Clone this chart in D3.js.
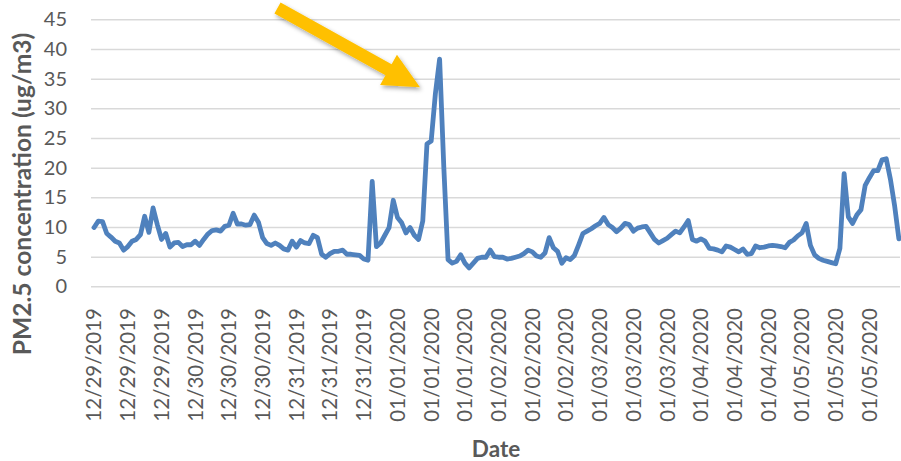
<!DOCTYPE html>
<html>
<head>
<meta charset="utf-8">
<script src="https://cdn.jsdelivr.net/npm/d3@7"></script>
<style>
  html, body { margin: 0; padding: 0; background: #ffffff; }
  svg { display: block; }
</style>
</head>
<body>
<svg id="chart" width="901" height="461"></svg>
<script>
// Hourly PM2.5 readings, 12/29/2019 00:00 through 01/05/2020 23:00
const pm25 = [
  9.9, 11.0, 10.9, 8.9, 8.3, 7.6, 7.3, 6.1, 6.7, 7.6, 7.9, 8.7, 11.8, 9.1, 13.2, 10.4,
  7.9, 8.9, 6.6, 7.3, 7.4, 6.7, 7.0, 7.0, 7.6, 6.9, 7.9, 8.8, 9.4, 9.5, 9.3, 10.1,
  10.3, 12.3, 10.5, 10.5, 10.3, 10.4, 12.0, 10.8, 8.2, 7.2, 6.9, 7.3, 6.9, 6.3, 6.1, 7.6,
  6.6, 7.7, 7.3, 7.2, 8.6, 8.2, 5.4, 4.9, 5.5, 5.9, 5.9, 6.1, 5.4, 5.4, 5.3, 5.2,
  4.6, 4.4, 17.7, 6.7, 7.3, 8.6, 9.9, 14.5, 11.6, 10.7, 9.0, 9.9, 8.6, 7.9, 11.0, 24.0,
  24.5, 32.5, 38.3, 20.0, 4.5, 3.9, 4.2, 5.3, 3.9, 3.1, 3.9, 4.7, 4.9, 4.9, 6.1, 5.0,
  4.9, 4.9, 4.6, 4.7, 4.9, 5.1, 5.5, 6.1, 5.8, 5.1, 4.9, 5.6, 8.2, 6.5, 5.9, 3.9,
  4.8, 4.5, 5.2, 7.0, 8.9, 9.3, 9.7, 10.2, 10.6, 11.6, 10.4, 9.9, 9.2, 9.8, 10.6, 10.4,
  9.3, 9.8, 10.0, 10.1, 9.0, 7.9, 7.3, 7.7, 8.1, 8.7, 9.3, 9.0, 10.0, 11.1, 7.9, 7.6,
  8.0, 7.6, 6.4, 6.3, 6.1, 5.8, 6.8, 6.6, 6.2, 5.8, 6.3, 5.4, 5.5, 6.8, 6.5, 6.6,
  6.8, 6.9, 6.8, 6.7, 6.5, 7.4, 7.8, 8.5, 9.0, 10.6, 6.9, 5.3, 4.7, 4.4, 4.2, 4.0,
  3.8, 6.4, 19.0, 11.7, 10.6, 12.0, 12.9, 17.0, 18.3, 19.5, 19.5, 21.3, 21.5, 18.0, 13.5, 8.0
];

// Category labels shown every 8 hours (00:00, 08:00, 16:00 of each day)
const dateLabels = [
  "12/29/2019", "12/29/2019", "12/29/2019",
  "12/30/2019", "12/30/2019", "12/30/2019",
  "12/31/2019", "12/31/2019", "12/31/2019",
  "01/01/2020", "01/01/2020", "01/01/2020",
  "01/02/2020", "01/02/2020", "01/02/2020",
  "01/03/2020", "01/03/2020", "01/03/2020",
  "01/04/2020", "01/04/2020", "01/04/2020",
  "01/05/2020", "01/05/2020", "01/05/2020"
];
const hoursPerLabel = 8;

const yTicks = [0, 5, 10, 15, 20, 25, 30, 35, 40, 45];

const yTitle = "PM2.5 concentration (ug/m3)";
const xTitle = "Date";

// Layout
const plot = { left: 92, right: 901, top: 19.3, bottom: 286.3 };
const textGray = "#595959";
const gridGray = "#d9d9d9";
const lineBlue = "#4f81bd";
const arrowGold = "#ffc000";

const svg = d3.select("#chart");

const defs = svg.append("defs");
const shadow = defs.append("filter")
  .attr("id", "arrowShadow")
  .attr("x", "-20%").attr("y", "-20%")
  .attr("width", "140%").attr("height", "160%");
shadow.append("feDropShadow")
  .attr("dx", 1.5).attr("dy", 2.5)
  .attr("stdDeviation", 2)
  .attr("flood-color", "#000000")
  .attr("flood-opacity", 0.35);

const idx = d3.range(pm25.length);
const x = d3.scaleBand().domain(idx).range([plot.left, plot.right]).padding(0);
const xc = i => x(i) + x.bandwidth() / 2;
const y = d3.scaleLinear().domain([0, 45]).range([plot.bottom, plot.top]);

// Horizontal gridlines with value labels
const yAxis = d3.axisLeft(y)
  .tickValues(yTicks)
  .tickFormat(d3.format("d"))
  .tickSize(-(plot.right - plot.left))
  .tickPadding(24);
const gy = svg.append("g")
  .attr("transform", `translate(${plot.left - 1},0)`)
  .call(yAxis);
gy.select(".domain").remove();
gy.selectAll(".tick line")
  .attr("stroke", gridGray)
  .attr("stroke-width", 1.5);
gy.selectAll(".tick text")
  .attr("fill", textGray)
  .style("font-family", "Lato, 'Open Sans', sans-serif")
  .style("font-size", "20px");

// Rotated date labels every 8 hours
const labelIdx = dateLabels.map((_, k) => k * hoursPerLabel);
const xAxis = d3.axisBottom(x)
  .tickValues(labelIdx)
  .tickFormat(i => dateLabels[i / hoursPerLabel])
  .tickSize(0)
  .tickPadding(0);
const gx = svg.append("g")
  .attr("transform", `translate(0,${plot.bottom})`)
  .call(xAxis);
gx.select(".domain").remove();
gx.selectAll(".tick text")
  .attr("fill", textGray)
  .style("font-family", "Lato, 'Open Sans', sans-serif")
  .style("font-size", "20.5px")
  .attr("text-anchor", "end")
  .attr("transform", "rotate(-90)")
  .attr("x", -(308 - plot.bottom))
  .attr("y", 0)
  .attr("dy", "0.36em");

// PM2.5 series
const line = d3.line()
  .x((d, i) => xc(i))
  .y(d => y(d));
svg.append("path")
  .datum(pm25)
  .attr("fill", "none")
  .attr("stroke", lineBlue)
  .attr("stroke-width", 4.8)
  .attr("stroke-linejoin", "round")
  .attr("stroke-linecap", "round")
  .attr("d", line);

// Axis titles
svg.append("text")
  .attr("transform", `translate(31,194) rotate(-90)`)
  .attr("text-anchor", "middle")
  .attr("fill", textGray)
  .style("font-family", "Lato, 'Open Sans', sans-serif")
  .style("font-weight", "bold")
  .style("font-size", "24.6px")
  .text(yTitle);

svg.append("text")
  .attr("x", 496)
  .attr("y", 456.5)
  .attr("text-anchor", "middle")
  .attr("fill", textGray)
  .style("font-family", "Lato, 'Open Sans', sans-serif")
  .style("font-weight", "bold")
  .style("font-size", "22.5px")
  .text(xTitle);

// Callout arrow pointing at the New Year peak
const peakIdx = pm25.indexOf(d3.max(pm25));
const tip = [420, 87.3];
const tail = [277.5, 8];
const dx = tip[0] - tail[0], dy = tip[1] - tail[1];
const len = Math.hypot(dx, dy);
const ux = dx / len, uy = dy / len;
const px = -uy, py = ux;
const shaftHalf = 6.3, headHalf = 17.3, headLen = 36;
const bx = tip[0] - ux * headLen, by = tip[1] - uy * headLen;
const arrowPts = [
  [tail[0] + px * shaftHalf, tail[1] + py * shaftHalf],
  [bx + px * shaftHalf, by + py * shaftHalf],
  [bx + px * headHalf, by + py * headHalf],
  tip,
  [bx - px * headHalf, by - py * headHalf],
  [bx - px * shaftHalf, by - py * shaftHalf],
  [tail[0] - px * shaftHalf, tail[1] - py * shaftHalf]
];
svg.append("path")
  .attr("class", "callout")
  .attr("data-target-index", peakIdx)
  .attr("d", d3.line()(arrowPts) + "Z")
  .attr("fill", arrowGold)
  .attr("filter", "url(#arrowShadow)");
</script>
</body>
</html>
